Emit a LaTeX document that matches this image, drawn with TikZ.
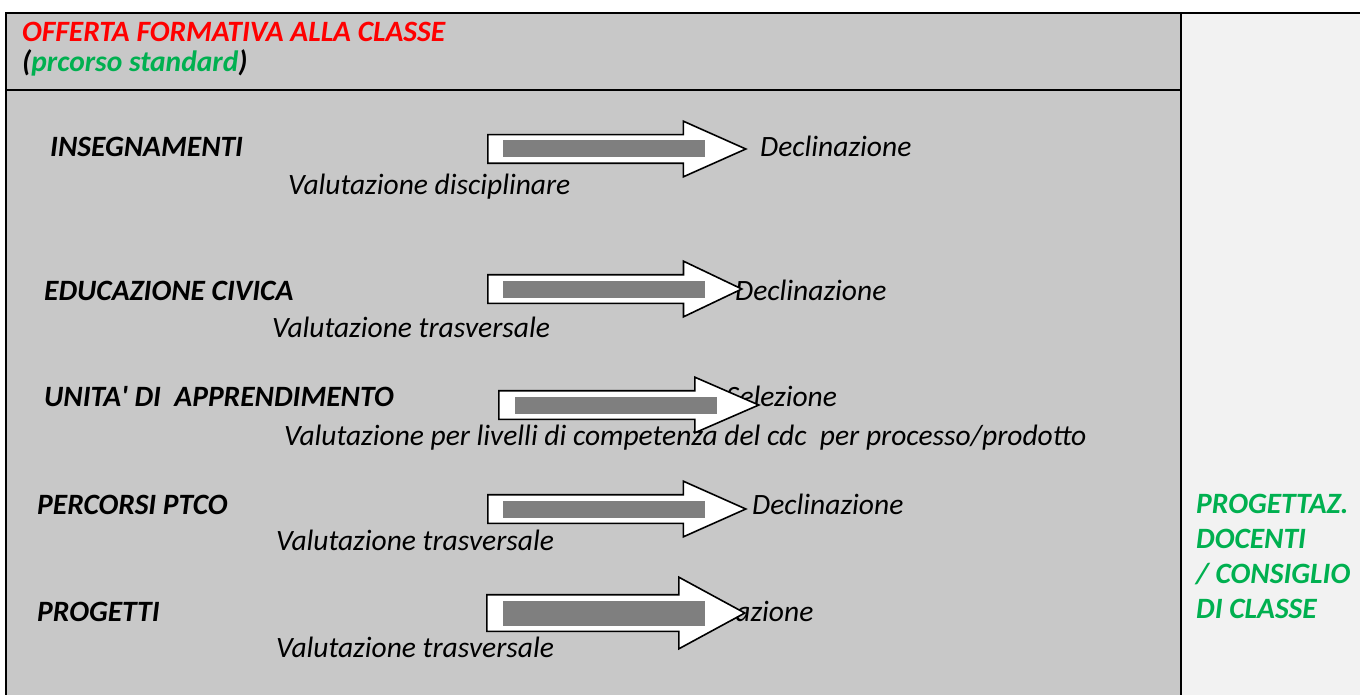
\documentclass[tikz,border=0pt]{standalone}
\usepackage{fontspec}
\setmainfont{Carlito}
\usetikzlibrary{shapes.arrows}

\definecolor{panelgray}{HTML}{C8C8C8}
\definecolor{sidegray}{HTML}{F2F2F2}
\definecolor{bargray}{HTML}{7F7F7F}
\definecolor{offred}{HTML}{FF0000}
\definecolor{offgreen}{HTML}{00B050}

\tikzset{
  lbl/.style={anchor=base west, inner sep=0pt, font=\fontsize{29.5}{35}\selectfont\bfseries\itshape},
  txt/.style={anchor=base west, inner sep=0pt, font=\fontsize{29.5}{35}\selectfont\itshape},
  blockarrow/.style={single arrow, draw=black, line width=1.6pt, fill=white,
    inner xsep=0pt, inner ysep=13.5, minimum height=258,
    single arrow head extend=13.5, single arrow tip angle=48, anchor=tail},
  bar/.style={fill=bargray, minimum width=202, minimum height=17, inner sep=0pt, anchor=west}
}

\begin{document}
\begin{tikzpicture}[x=1pt,y=-1pt]
			\useasboundingbox (0,0) rectangle (1360,695);
			
			% Panels
			\fill[panelgray] (6,13) rectangle (1181,695);
			\fill[sidegray] (1181,13) rectangle (1360,695);
			\draw[line width=2.5pt] (6,695) -- (6,13) -- (1360,13);
			\draw[line width=2.5pt] (1181,13) -- (1181,695);
			\draw[line width=2.5pt] (6,90) -- (1181,90);
			
			% Header
			\node[lbl, text=offred] (title) at (22,42) {OFFERTA FORMATIVA ALLA CLASSE};
			\node[lbl] (subtitle) at (22,72) {(\textcolor{offgreen}{prcorso standard})};
			
			% Row labels
			\node[lbl] (insegn) at (50,157) {INSEGNAMENTI};
			\node[lbl] (educiv) at (44,300) {EDUCAZIONE CIVICA};
			\node[lbl] (uda) at (44,406) {UNITA\textquotesingle{} DI\ \ APPRENDIMENTO};
			\node[lbl] (ptco) at (37,514) {PERCORSI PTCO};
			\node[lbl] (progetti) at (37,621) {PROGETTI};
			
			% Right hand texts
			\node[txt] (declA) at (760,157) {Declinazione};
			\node[txt] (declB) at (735,300) {Declinazione};
			\node[txt] (selez) at (726,406) {Selezione};
			\node[txt] (declD) at (752,514) {Declinazione};
			\node[txt] (declE) at (662,621) {Declinazione};
			
			% Evaluations
			\node[txt] (valA) at (288,195) {Valutazione disciplinare};
			\node[txt] (valB) at (272,337) {Valutazione trasversale};
			\node[txt] (valC) at (284,445) {Valutazione per livelli di competenza del cdc\ \ per processo/prodotto};
			\node[txt] (valD) at (276,550) {Valutazione trasversale};
			\node[txt] (valE) at (276,657) {Valutazione trasversale};
			
			% Block arrows
			\node[blockarrow] (arrA) at (487,149) {};
			\node[blockarrow, minimum height=254, single arrow tip angle=51] (arrB) at (487,289) {};
			\node[blockarrow, minimum height=260, single arrow tip angle=47] (arrC) at (498,405) {};
			\node[blockarrow] (arrD) at (487,509) {};
			\node[blockarrow, inner ysep=17.5, single arrow head extend=17.5, single arrow tip angle=57] (arrE) at (486,613) {};
			\node[bar] (barA) at ([xshift=16]arrA.tail) {};
			\node[bar] (barB) at ([xshift=16]arrB.tail) {};
			\node[bar] (barC) at ([xshift=17]arrC.tail) {};
			\node[bar] (barD) at ([xshift=16]arrD.tail) {};
			\node[bar, minimum height=25] (barE) at ([xshift=17]arrE.tail) {};
			
			% Side column
			\node[lbl, anchor=north west, align=left, text=offgreen] (side) at (1196,494) {PROGETTAZ.\\DOCENTI\\/ CONSIGLIO\\DI CLASSE};
			
		\end{tikzpicture}
\end{document}
